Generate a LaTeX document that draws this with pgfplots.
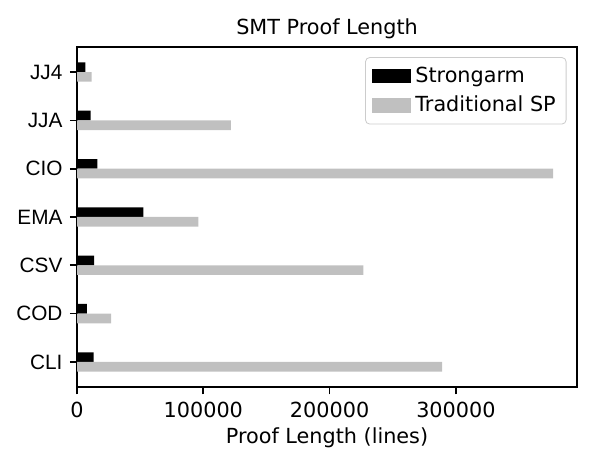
\documentclass[border=0pt]{standalone}
\usepackage{fontspec}
\setmainfont{DejaVu Sans}
\newfontfamily\arialfont{Liberation Sans}
\usepackage{pgfplots}
\pgfplotsset{compat=1.18}
\definecolor{silver}{HTML}{C0C0C0}
\definecolor{legedge}{HTML}{CCCCCC}
\begin{document}
\begin{tikzpicture}
\useasboundingbox (0,0) rectangle (288pt,225pt);
\begin{axis}[
  at={(37.1pt,38.6pt)}, anchor=south west,
  scale only axis, width=240.8pt, height=163.8pt,
  xbar, bar width=0.2,
  xmin=0, xmax=395900, ymin=-0.52, ymax=6.52,
  ytick={0,...,6},
  yticklabels={CLI,COD,CSV,EMA,CIO,JJA,JJ4},
  yticklabel style={font=\arialfont\fontsize{10}{12}\selectfont},
  xtick={0,100000,200000,300000},
  scaled x ticks=false,
  /pgf/number format/.cd, fixed, 1000 sep={}, assume math mode=true, /pgfplots/.cd,
  xticklabel style={font=\fontsize{10}{12}\selectfont},
  tick align=outside, major tick length=3.5pt,
  xtick pos=bottom, ytick pos=left,
  tick style={black, line width=0.8pt},
  axis line style={line width=0.8pt},
  title={SMT Proof Length}, title style={font=\fontsize{10}{12}\selectfont, yshift=-5.5pt},
  xlabel={Proof Length (lines)}, xlabel style={font=\fontsize{10}{12}\selectfont, yshift=2pt},
  legend cell align=left,
  legend style={at={(0.979,0.97)}, anchor=north east, draw=legedge, rounded corners=2pt,
    font=\fontsize{10}{12}\selectfont, row sep=1pt, inner xsep=3pt, inner ysep=2.5pt},
  legend image code/.code={\fill[#1, sharp corners] (0pt,-3.5pt) rectangle (19pt,3.5pt);},
]
\addplot[fill=black, draw=none, bar shift=0.1] coordinates {
 (13200,0) (7700,1) (13500,2) (52500,3) (16100,4) (10800,5) (6600,6)};
\addlegendentry{Strongarm}
\addplot[fill=silver, draw=none, bar shift=-0.1] coordinates {
 (289000,0) (26900,1) (226700,2) (96000,3) (377000,4) (121900,5) (11600,6)};
\addlegendentry{Traditional SP}
\end{axis}
\end{tikzpicture}
\end{document}
